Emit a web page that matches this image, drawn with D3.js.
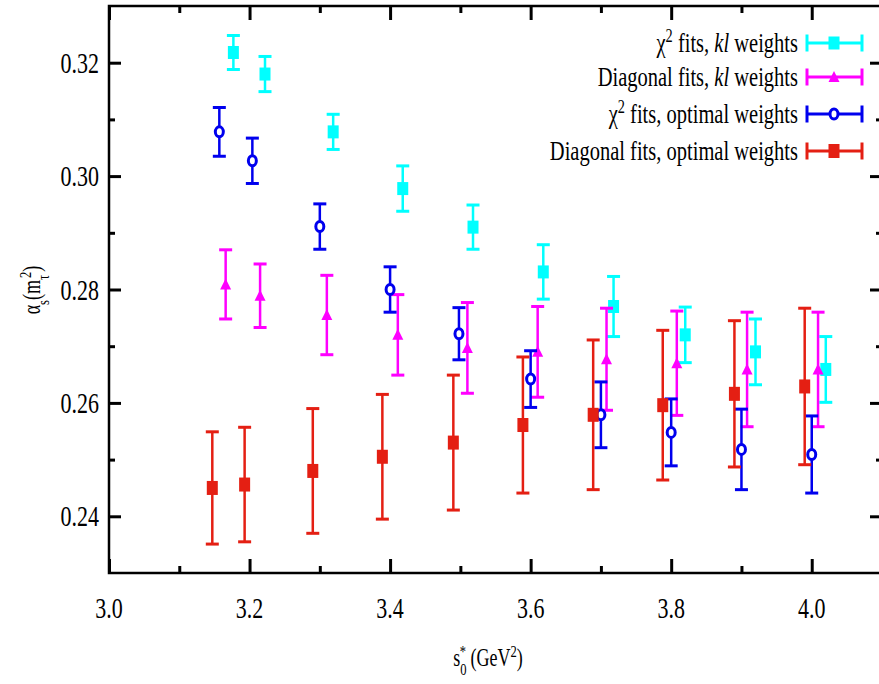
<!DOCTYPE html>
<html>
<head>
<meta charset="utf-8">
<script src="https://cdn.jsdelivr.net/npm/d3@7"></script>
<style>
  body { margin: 0; background: #fff; }
  svg { display: block; }
</style>
</head>
<body>
<svg id="chart" width="879" height="684"></svg>
<script>
// αs(mτ²) versus s0 for four fit strategies, with error bars.

// χ² fits, kl weights
const xCyan     = [3.177, 3.222, 3.319, 3.418, 3.518, 3.618, 3.718, 3.820, 3.920, 4.020];
const alphaCyan = [0.3218, 0.3180, 0.3078, 0.2978, 0.2910, 0.2831, 0.2770, 0.2720, 0.2690, 0.2659];
const errCyan   = [0.0030, 0.0031, 0.0031, 0.0040, 0.0039, 0.0048, 0.0053, 0.0049, 0.0058, 0.0058];

// Diagonal fits, kl weights
const xMagenta     = [3.166, 3.215, 3.310, 3.411, 3.510, 3.610, 3.708, 3.808, 3.908, 4.009];
const alphaMagenta = [0.2809, 0.2789, 0.2755, 0.2720, 0.2697, 0.2690, 0.2677, 0.2670, 0.2659, 0.2659];
const errMagenta   = [0.0061, 0.0056, 0.0070, 0.0071, 0.0080, 0.0080, 0.0090, 0.0092, 0.0101, 0.0101];

// χ² fits, optimal weights
const xBlue     = [3.157, 3.204, 3.300, 3.400, 3.498, 3.600, 3.700, 3.800, 3.900, 4.000];
const alphaBlue = [0.3078, 0.3027, 0.2911, 0.2800, 0.2722, 0.2642, 0.2579, 0.2548, 0.2518, 0.2509];
const errBlue   = [0.0043, 0.0040, 0.0040, 0.0040, 0.0046, 0.0050, 0.0058, 0.0059, 0.0071, 0.0068];

// Diagonal fits, optimal weights
const xRed     = [3.147, 3.193, 3.290, 3.389, 3.490, 3.589, 3.689, 3.788, 3.890, 3.990];
const alphaRed = [0.2450, 0.2456, 0.2480, 0.2505, 0.2530, 0.2561, 0.2579, 0.2596, 0.2616, 0.2629];
const errRed   = [0.0099, 0.0101, 0.0110, 0.0110, 0.0119, 0.0120, 0.0132, 0.0132, 0.0129, 0.0138];

const xTickValues = [3.0, 3.2, 3.4, 3.6, 3.8, 4.0];
const xTickLabels = ["3.0", "3.2", "3.4", "3.6", "3.8", "4.0"];
const yTickValues = [0.24, 0.26, 0.28, 0.30, 0.32];
const yTickLabels = ["0.24", "0.26", "0.28", "0.30", "0.32"];

const series = [
  { label: [["χ"], ["2", "sup"], [" fits, "], ["kl", "it"], [" weights"]], color: "#00ffff", marker: "square", x: xCyan, y: alphaCyan, e: errCyan },
  { label: [["Diagonal fits, "], ["kl", "it"], [" weights"]], color: "#ff00ff", marker: "triangle", x: xMagenta, y: alphaMagenta, e: errMagenta },
  { label: [["χ"], ["2", "sup"], [" fits, optimal weights"]], color: "#0000ee", marker: "circle", x: xBlue, y: alphaBlue, e: errBlue },
  { label: [["Diagonal fits, optimal weights"]], color: "#e41f13", marker: "bigsquare", x: xRed, y: alphaRed, e: errRed }
];

const svg = d3.select("#chart");
const FONT = "'Liberation Serif', 'DejaVu Serif', serif";
const STRETCH = 1.35;

const plotLeft = 109, plotTop = 6, plotRight = 882, plotBottom = 573;
const x = d3.scaleLinear().domain([3.0, 4.1]).range([plotLeft, plotRight]);
const y = d3.scaleLinear().domain([0.23, 0.33]).range([plotBottom, plotTop]);

// Frame axes: ticks mirrored on all four sides
const xMinor = [3.1, 3.3, 3.5, 3.7, 3.9];
const yMinor = [0.25, 0.27, 0.29, 0.31];
function axisGroup(axis, tx, ty) {
  const g = svg.append("g").attr("transform", `translate(${tx},${ty})`).call(axis);
  g.select(".domain").remove();
  g.selectAll(".tick line").attr("stroke", "#000").attr("stroke-width", 3);
  g.selectAll(".tick text").remove();
  return g;
}
axisGroup(d3.axisTop(x).tickValues(xTickValues).tickSize(14).tickFormat(""), 0, plotBottom);
axisGroup(d3.axisTop(x).tickValues(xMinor).tickSize(7).tickFormat(""), 0, plotBottom);
axisGroup(d3.axisBottom(x).tickValues(xTickValues).tickSize(14).tickFormat(""), 0, plotTop);
axisGroup(d3.axisBottom(x).tickValues(xMinor).tickSize(7).tickFormat(""), 0, plotTop);
axisGroup(d3.axisRight(y).tickValues(yTickValues).tickSize(12).tickFormat(""), plotLeft, 0);
axisGroup(d3.axisRight(y).tickValues(yMinor).tickSize(6).tickFormat(""), plotLeft, 0);
axisGroup(d3.axisLeft(y).tickValues(yTickValues).tickSize(12).tickFormat(""), plotRight, 0);
axisGroup(d3.axisLeft(y).tickValues(yMinor).tickSize(6).tickFormat(""), plotRight, 0);

svg.append("rect")
  .attr("x", plotLeft).attr("y", plotTop)
  .attr("width", plotRight - plotLeft).attr("height", plotBottom - plotTop)
  .attr("fill", "none").attr("stroke", "#000").attr("stroke-width", 2.5);

// Text helper: tall serif lettering
function label(px, py, anchor, size, parts, rotate) {
  const g = svg.append("g")
    .attr("transform", `translate(${px},${py})` + (rotate ? ` rotate(${rotate})` : "") + ` scale(1,${STRETCH})`);
  const t = g.append("text")
    .attr("text-anchor", anchor)
    .attr("dy", "0.34em")
    .attr("font-family", FONT)
    .attr("font-size", size)
    .attr("fill", "#000");
  parts.forEach(([s, kind, dx]) => {
    const ts = t.append("tspan").text(s);
    if (kind === "it") ts.attr("font-style", "italic");
    if (kind === "sup") ts.attr("font-size", size * 0.7).attr("baseline-shift", "super");
    if (kind === "sub") ts.attr("font-size", size * 0.7).attr("baseline-shift", "sub");
    if (dx) ts.attr("dx", dx);
  });
  return t;
}

xTickValues.forEach((v, i) => label(x(v), 608, "middle", 22, [[xTickLabels[i]]]));
yTickValues.forEach((v, i) => label(99, y(v), "end", 22, [[yTickLabels[i]]]));

// Axis titles
label(488, 658, "middle", 18, [["s"], ["0", "sub"], ["*", "sup", -7], [" (GeV"], ["2", "sup"], [")"]]);
label(32, 290, "middle", 18, [["α"], ["s", "sub"], ["(m"], ["τ", "sub"], ["2", "sup", -3], [")"]], -90);

// Markers
function drawMarker(g, kind, cx, cy, color) {
  if (kind === "square") {
    g.append("rect").attr("x", cx - 5.5).attr("y", cy - 6.5).attr("width", 11).attr("height", 13).attr("fill", color);
  } else if (kind === "bigsquare") {
    g.append("rect").attr("x", cx - 5.5).attr("y", cy - 7).attr("width", 11).attr("height", 14).attr("fill", color);
  } else if (kind === "triangle") {
    g.append("path")
      .attr("d", `M${cx},${cy - 6}L${cx + 5.5},${cy + 5}L${cx - 5.5},${cy + 5}Z`)
      .attr("fill", color);
  } else if (kind === "circle") {
    g.append("ellipse").attr("cx", cx).attr("cy", cy).attr("rx", 4).attr("ry", 5)
      .attr("fill", "#fff").attr("stroke", color).attr("stroke-width", 3);
  }
}

const CAP = 6.5;
series.forEach(s => {
  const g = svg.append("g");
  s.x.forEach((xv, i) => {
    const cx = x(xv);
    const y0 = y(s.y[i] - s.e[i]), y1 = y(s.y[i] + s.e[i]);
    g.append("line").attr("x1", cx).attr("x2", cx).attr("y1", y0).attr("y2", y1)
      .attr("stroke", s.color).attr("stroke-width", 2.5);
    [y0, y1].forEach(yy => g.append("line")
      .attr("x1", cx - CAP).attr("x2", cx + CAP).attr("y1", yy).attr("y2", yy)
      .attr("stroke", s.color).attr("stroke-width", 3));
    drawMarker(g, s.marker, cx, y(s.y[i]), s.color);
  });
});

// Legend
const legendY = [43, 77, 114, 151];
series.forEach((s, i) => {
  const ly = legendY[i];
  label(798, ly, "end", 20.5, s.label);
  const g = svg.append("g");
  g.append("line").attr("x1", 807).attr("x2", 862).attr("y1", ly).attr("y2", ly)
    .attr("stroke", s.color).attr("stroke-width", 3);
  [807, 862].forEach(lx => g.append("line").attr("x1", lx).attr("x2", lx)
    .attr("y1", ly - 8.5).attr("y2", ly + 8.5).attr("stroke", s.color).attr("stroke-width", 3));
  drawMarker(g, s.marker, 834, ly, s.color);
});
</script>
</body>
</html>
